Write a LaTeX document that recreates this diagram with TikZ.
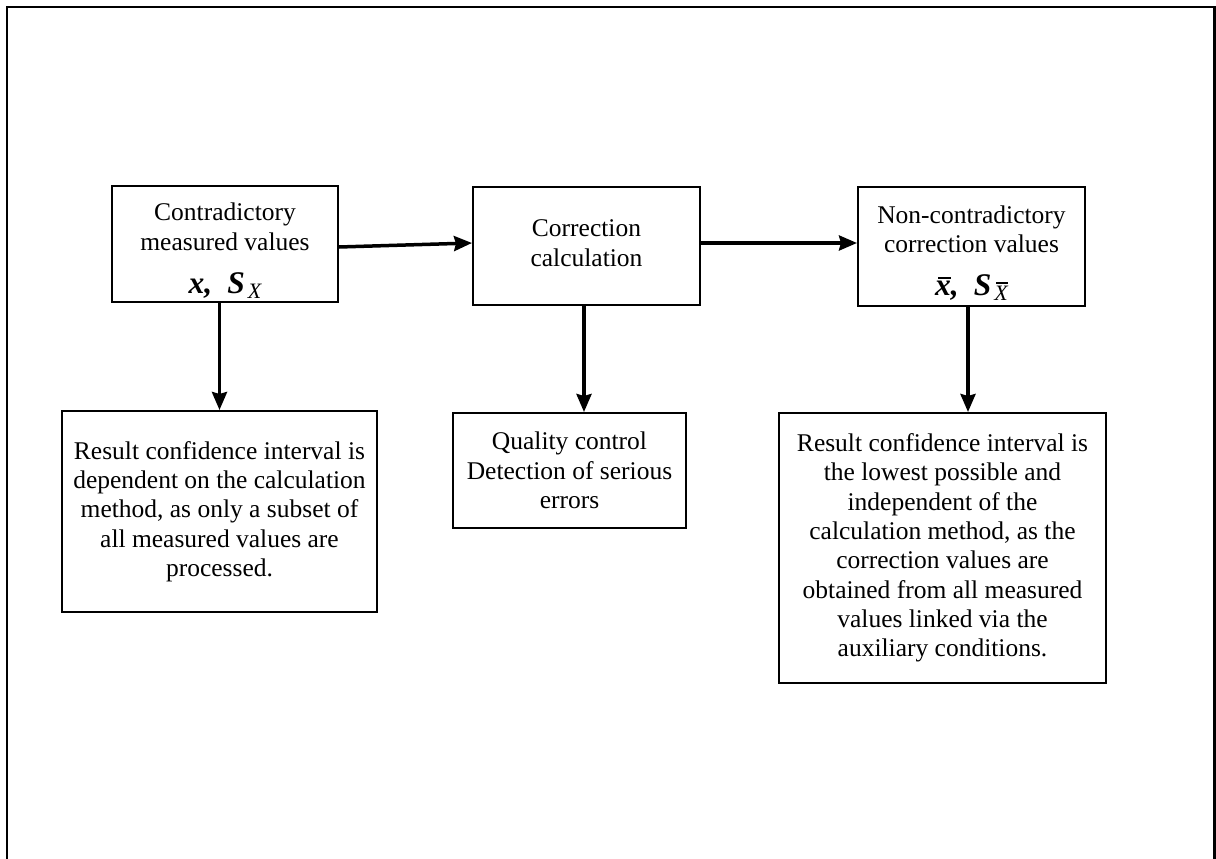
\documentclass[tikz,border=0pt]{standalone}
\usepackage{fontspec}
\setmainfont{Liberation Serif}
\usetikzlibrary{arrows.meta,calc}
\newcommand\mybar[3]{{\setbox0\hbox{#3}\rlap{\hspace{#1}\raisebox{#2}{\rule{\dimexpr\wd0-#1\relax}{1.6pt}}}\box0}}
\newcommand\txtfont{\fontsize{25.5}{29.3}\selectfont}
\newcommand\mathbig{\fontsize{31.5}{31.5}\selectfont\bfseries\itshape}
\newcommand\subsm{\fontsize{22}{22}\selectfont\itshape}
\newcommand\topstrut{\rule{0pt}{31pt}}
\begin{document}
\begin{tikzpicture}[x=1pt,y=-1pt,
  box/.style={draw,line width=2pt,inner sep=0pt,align=center,font=\txtfont},
  arr/.style={line width=3.5pt,-{Stealth[length=18pt,width=15pt,inset=2pt]}},
  frame/.style={line width=2.6pt}]
\useasboundingbox (0,0) rectangle (1216,859);
\draw[frame] (7,859) -- (7,7) -- (1214.5,7) -- (1214.5,859);

\node[box,minimum width=226pt,minimum height=116pt] (A) at (225,244)
  {\topstrut Contradictory\\ measured values\\[14pt]{\mathbig x,\hspace{15pt}S}\hspace{3pt}\raisebox{-5pt}{\subsm X}};
\node[box,minimum width=227pt,minimum height=118pt] (B) at (586.5,246)
  {Correction\\ calculation\rule[-6pt]{0pt}{1pt}};
\node[box,minimum width=227pt,minimum height=119pt] (C) at (971.5,246.5)
  {\topstrut Non-contradictory\\ correction values\\[14pt]{\mathbig \mybar{3pt}{17pt}{x},\hspace{15pt}S}\hspace{3pt}\raisebox{-5pt}{\subsm \mybar{2pt}{17pt}{X}}};

\node[box,minimum width=315pt,minimum height=201pt] (D) at (219.5,511.5)
  {Result confidence interval is\\ dependent on the calculation\\ method, as only a subset of\\ all measured values are\\ processed.};
\node[box,minimum width=233pt,minimum height=115pt] (E) at (569.5,470.5)
  {Quality control\\ Detection of serious\\ errors};
\node[box,minimum width=327pt,minimum height=270pt] (F) at (942.5,548)
  {Result confidence interval is\\ the lowest possible and\\ independent of the\\ calculation method, as the\\ correction values are\\ obtained from all measured\\ values linked via the\\ auxiliary conditions.};

\draw[arr] ($(A.east)+(0,3)$) -- ($(B.west)+(0,-3)$);
\draw[arr] ($(B.east)+(0,-3)$) -- ($(C.west)+(0,-3.5)$);
\draw[arr] (A.south -| D.north) -- (D.north);
\draw[arr] ($(B.south)+(-2.5,0)$) coordinate (b1) -- (b1 |- E.north);
\draw[arr] ($(C.south)+(-3.5,0)$) coordinate (c1) -- (c1 |- F.north);
\end{tikzpicture}
\end{document}
